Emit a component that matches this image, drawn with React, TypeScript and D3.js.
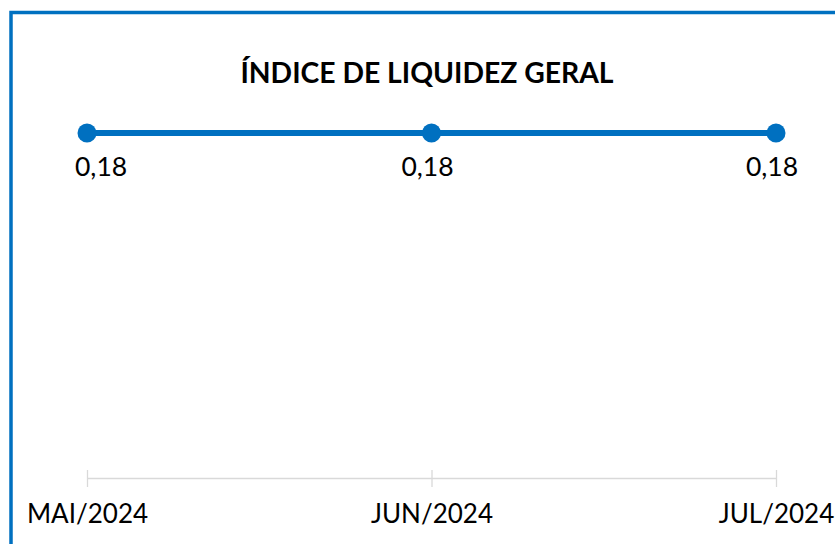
import React, { useEffect, useRef } from 'react';
import * as d3 from 'd3';

const title = 'ÍNDICE DE LIQUIDEZ GERAL';
const months = ['MAI/2024', 'JUN/2024', 'JUL/2024'];
const values = [0.18, 0.18, 0.18];

const W = 835, H = 544;
const blue = '#0070C0';
const font = 'Lato, "Open Sans", sans-serif';

const App = () => {
  const ref = useRef<SVGSVGElement>(null);

  useEffect(() => {
    const svg = d3.select(ref.current);
    svg.selectAll('*').remove();

    // frame (only left + top visible)
    svg.append('rect')
      .attr('x', 11).attr('y', 12.5)
      .attr('width', W + 20).attr('height', H + 20)
      .attr('fill', 'white')
      .attr('stroke', blue).attr('stroke-width', 3.5);

    svg.append('text')
      .attr('x', 427).attr('y', 83)
      .attr('text-anchor', 'middle')
      .attr('font-family', font).attr('font-weight', 'bold')
      .attr('font-size', 28.3).attr('fill', '#000')
      .text(title);

    const x = d3.scalePoint<string>().domain(months).range([87, 776]);
    // all values equal; plot area top at 133, bottom at 478
    const y = d3.scaleLinear().domain([0, 0.18]).range([478, 133]);

    const axis = svg.append('g')
      .attr('transform', 'translate(0,478)')
      .call(d3.axisBottom(x).tickSize(0).tickPadding(0).tickFormat(() => ''));
    axis.select('.domain').attr('stroke', '#d9d9d9').attr('stroke-width', 1.3);
    axis.selectAll('.tick').append('line')
      .attr('y1', -8).attr('y2', 9)
      .attr('stroke', '#d9d9d9').attr('stroke-width', 1.3);
    axis.selectAll('.tick').append('text')
      .attr('y', 45).attr('fill', '#000')
      .attr('font-family', font).attr('font-size', 26)
      .attr('text-anchor', 'middle')
      .text((d: any) => d);

    const line = d3.line<number>()
      .x((d, i) => x(months[i])!)
      .y(d => y(d));

    svg.append('path')
      .datum(values)
      .attr('d', line)
      .attr('fill', 'none')
      .attr('stroke', blue).attr('stroke-width', 6);

    svg.selectAll('.dot').data(values).enter().append('circle')
      .attr('cx', (d, i) => x(months[i])!)
      .attr('cy', d => y(d))
      .attr('r', 9.5)
      .attr('fill', blue);

    // labels below points; first one is pushed inside the plot area
    svg.selectAll('.lbl').data(values).enter().append('text')
      .attr('x', (d, i) => i === 0 ? x(months[i])! - 12 : x(months[i])! - 4)
      .attr('y', d => y(d) + 43)
      .attr('text-anchor', (d, i) => i === 0 ? 'start' : 'middle')
      .attr('font-family', font).attr('font-size', 26.5)
      .attr('fill', '#000')
      .text(d => d.toFixed(2).replace('.', ','));
  }, []);

  return (
    <svg ref={ref} width={W} height={H}
      style={{ position: 'absolute', left: 0, top: 0, background: 'white' }} />
  );
};

export default App;
